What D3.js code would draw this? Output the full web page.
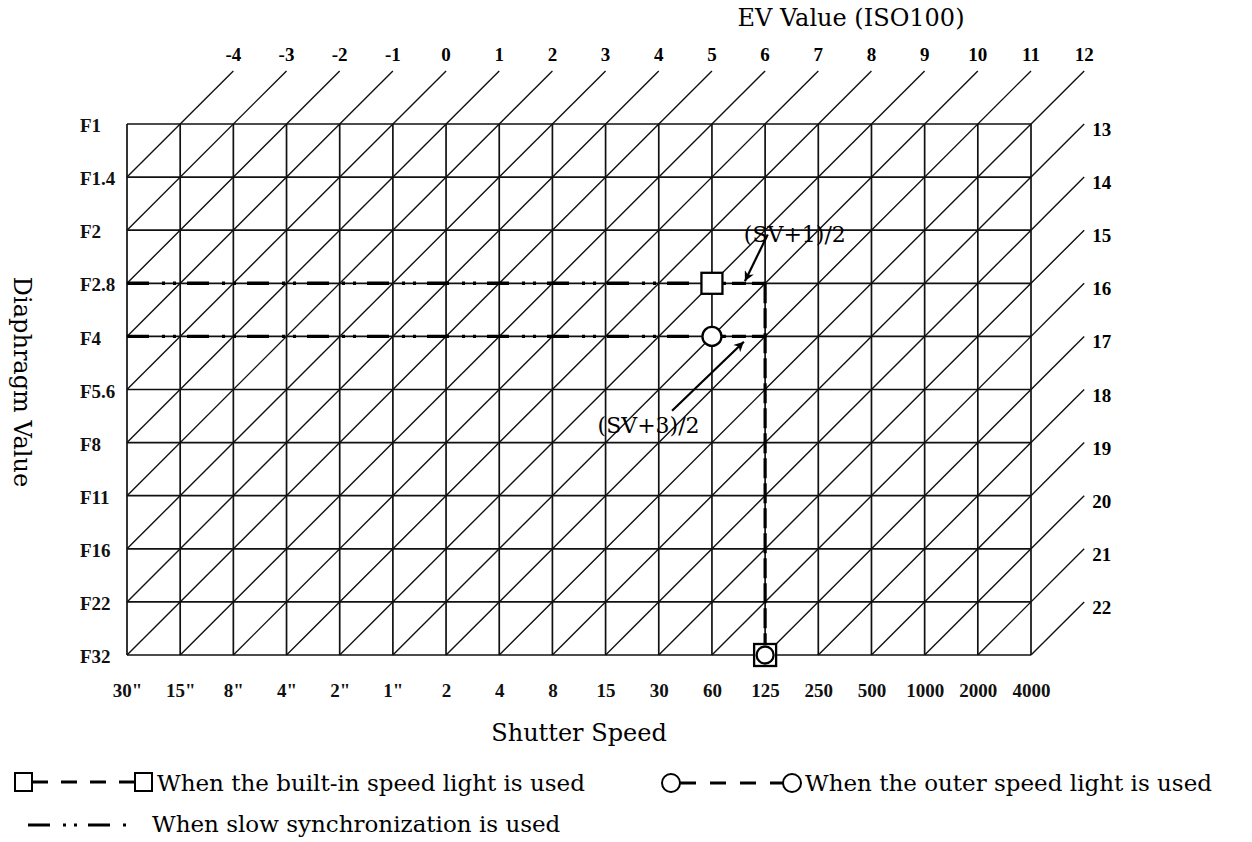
<!DOCTYPE html>
<html><head><meta charset="utf-8">
<script src="https://cdn.jsdelivr.net/npm/d3@7/dist/d3.min.js"></script>
<style>body{margin:0;background:#fff}svg{display:block}</style>
</head><body>
<svg id="c" width="1252" height="842"></svg>
<script>
// ---- data ----
const shutterSpeeds = ['30"','15"','8"','4"','2"','1"','2','4','8','15','30','60','125','250','500','1000','2000','4000'];
const apertures = ['F1','F1.4','F2','F2.8','F4','F5.6','F8','F11','F16','F22','F32'];
const evValues = [-4,-3,-2,-1,0,1,2,3,4,5,6,7,8,9,10,11,12,13,14,15,16,17,18,19,20,21,22];
const flashApertures = ['F2.8','F4'];        // built-in (square), outer (circle)
const flashMarkers = ['square','circle'];
const flashShutter = '60';
const syncShutter = '125';
const annotations = [
  {text:'(SV+1)/2', from:[12.05,2.08], to:[11.62,2.96], pos:[11.6,2.22]},
  {text:'(SV+3)/2', from:[10.25,5.4], to:[11.6,4.1], pos:[8.85,5.82]}
];
const legendItems = [
  'When the built-in speed light is used',
  'When the outer speed light is used',
  'When slow synchronization is used'
];

// ---- layout ----
const svg = d3.select('#c');
const x = d3.scalePoint().domain(shutterSpeeds).range([127,1031]);
const y = d3.scalePoint().domain(apertures).range([124,655]);
const nC = shutterSpeeds.length-1, nR = apertures.length-1;
const xi = d3.scaleLinear().domain([0,nC]).range(x.range());
const yi = d3.scaleLinear().domain([0,nR]).range(y.range());
const serif = '"DejaVu Serif", serif';
const bold = '"Liberation Serif", "Times New Roman", serif';

// diagonals (EV lines)
const kOf = ev => ev - evValues[0] + 1;
const diag = evValues.map(ev => {
  const k = kOf(ev);
  const c0 = Math.max(0, k-nR), r0 = k-c0;
  const c1 = Math.min(k, nC)+1, r1 = k-c1;
  return {ev, c0, r0, c1, r1, top: r1 === -1};
});
svg.append('g').selectAll('line').data(diag).join('line')
  .attr('x1', d=>xi(d.c0)).attr('y1', d=>yi(d.r0))
  .attr('x2', d=>xi(d.c1)).attr('y2', d=>yi(d.r1))
  .attr('stroke','#111').attr('stroke-width',1.4);

// grid
const grid = svg.append('g').attr('stroke','#111').attr('stroke-width',1.7);
grid.selectAll('.v').data(shutterSpeeds).join('line')
  .attr('x1',d=>x(d)).attr('x2',d=>x(d)).attr('y1',y.range()[0]).attr('y2',y.range()[1]);
grid.selectAll('.h').data(apertures).join('line')
  .attr('y1',d=>y(d)).attr('y2',d=>y(d)).attr('x1',x.range()[0]).attr('x2',x.range()[1]);

// EV labels
svg.append('g').selectAll('text').data(diag).join('text')
  .attr('x', d => d.top ? xi(d.c1) : xi(d.c1)+8)
  .attr('y', d => d.top ? yi(d.r1)-10 : yi(d.r1)+12)
  .attr('text-anchor', d => d.top ? 'middle' : 'start')
  .attr('font-family', bold).attr('font-weight','bold').attr('font-size',19)
  .text(d => d.ev);

// axes
const ax = svg.append('g').attr('transform',`translate(0,${y.range()[1]})`)
  .call(d3.axisBottom(x).tickSize(0).tickPadding(29));
ax.select('.domain').remove();
ax.selectAll('text').attr('font-family',bold).attr('font-weight','bold').attr('font-size',19).attr('fill','#111');

const ay = svg.append('g').attr('transform',`translate(${x.range()[0]},0)`)
  .call(d3.axisLeft(y).tickSize(0));
ay.select('.domain').remove();
ay.selectAll('text').attr('text-anchor','start').attr('x',-47).attr('dy','0.4em')
  .attr('font-family',bold).attr('font-weight','bold').attr('font-size',19).attr('fill','#111');

// titles
svg.append('text').attr('x',851).attr('y',26).attr('text-anchor','middle')
  .attr('font-family',serif).attr('font-size',24).text('EV Value (ISO100)');
svg.append('text').attr('x',579).attr('y',741).attr('text-anchor','middle')
  .attr('font-family',serif).attr('font-size',24).text('Shutter Speed');
svg.append('text').attr('transform','translate(14,382) rotate(90)').attr('text-anchor','middle')
  .attr('font-family',serif).attr('font-size',24).text('Diaphragm Value');

// slow sync lines (dash-dot-dot)
const slowDash = '22,13,3,8,3,11';
svg.append('g').selectAll('line').data(flashApertures).join('line')
  .attr('x1',x.range()[0]).attr('x2',x(flashShutter))
  .attr('y1',d=>y(d)).attr('y2',d=>y(d))
  .attr('stroke','#000').attr('stroke-width',3.4).attr('stroke-dasharray',slowDash);
// flash dashed lines
svg.append('g').selectAll('line').data(flashApertures).join('line')
  .attr('x1',x(flashShutter)).attr('x2',x(syncShutter))
  .attr('y1',d=>y(d)).attr('y2',d=>y(d))
  .attr('stroke','#000').attr('stroke-width',3.2).attr('stroke-dasharray','14,6');
svg.append('line')
  .attr('x1',x(syncShutter)).attr('x2',x(syncShutter))
  .attr('y1',y(flashApertures[0])).attr('y2',y.range()[1])
  .attr('stroke','#000').attr('stroke-width',3.2).attr('stroke-dasharray','20,5');

// markers
function marker(g, type, cx, cy, s){
  if(type==='square') g.append('rect').attr('x',cx-s/2).attr('y',cy-s/2).attr('width',s).attr('height',s)
    .attr('fill','#fff').attr('stroke','#000').attr('stroke-width',2.3);
  else g.append('circle').attr('cx',cx).attr('cy',cy).attr('r',s/2)
    .attr('fill','#fff').attr('stroke','#000').attr('stroke-width',2.3);
}
const mg = svg.append('g');
flashApertures.forEach((a,i)=> marker(mg, flashMarkers[i], x(flashShutter), y(a), i===0?21:19));
marker(mg,'square',x(syncShutter),y.range()[1],22);
marker(mg,'circle',x(syncShutter),y.range()[1],17);

// annotations
svg.append('defs').append('marker').attr('id','ah').attr('viewBox','0 0 10 10')
  .attr('refX',10).attr('refY',5).attr('markerWidth',17).attr('markerHeight',10)
  .attr('markerUnits','userSpaceOnUse').attr('orient','auto')
  .append('path').attr('d','M0,0 L10,5 L0,10 L3,5 Z').attr('fill','#000');
const an = svg.append('g');
an.selectAll('text').data(annotations).join('text')
  .attr('x',d=>xi(d.pos[0])).attr('y',d=>yi(d.pos[1]))
  .attr('font-family',serif).attr('font-size',22).text(d=>d.text);
an.selectAll('line').data(annotations).join('line')
  .attr('x1',d=>xi(d.from[0])).attr('y1',d=>yi(d.from[1]))
  .attr('x2',d=>xi(d.to[0])).attr('y2',d=>yi(d.to[1]))
  .attr('stroke','#000').attr('stroke-width',2.2).attr('marker-end','url(#ah)');

// legend
const lg = svg.append('g');
// row 1: built-in
lg.append('line').attr('x1',32).attr('x2',135).attr('y1',782).attr('y2',782)
  .attr('stroke','#000').attr('stroke-width',3.2).attr('stroke-dasharray','16,13');
lg.append('rect').attr('x',15).attr('y',773).attr('width',17).attr('height',18).attr('fill','#fff').attr('stroke','#000').attr('stroke-width',2);
lg.append('rect').attr('x',135).attr('y',773).attr('width',17).attr('height',18).attr('fill','#fff').attr('stroke','#000').attr('stroke-width',2);
lg.append('text').attr('x',157).attr('y',791).attr('font-family',serif).attr('font-size',23).text(legendItems[0]);
// outer
lg.append('line').attr('x1',680).attr('x2',783).attr('y1',783).attr('y2',783)
  .attr('stroke','#000').attr('stroke-width',3.2).attr('stroke-dasharray','16,14');
lg.append('circle').attr('cx',671).attr('cy',783).attr('r',9).attr('fill','#fff').attr('stroke','#000').attr('stroke-width',2);
lg.append('circle').attr('cx',792).attr('cy',783).attr('r',9).attr('fill','#fff').attr('stroke','#000').attr('stroke-width',2);
lg.append('text').attr('x',805).attr('y',791).attr('font-family',serif).attr('font-size',23).text(legendItems[1]);
// row 2: slow sync
lg.append('line').attr('x1',28).attr('x2',126).attr('y1',825).attr('y2',825)
  .attr('stroke','#000').attr('stroke-width',3.2).attr('stroke-dasharray',slowDash);
lg.append('text').attr('x',152).attr('y',832).attr('font-family',serif).attr('font-size',23).text(legendItems[2]);
</script>
</body></html>
